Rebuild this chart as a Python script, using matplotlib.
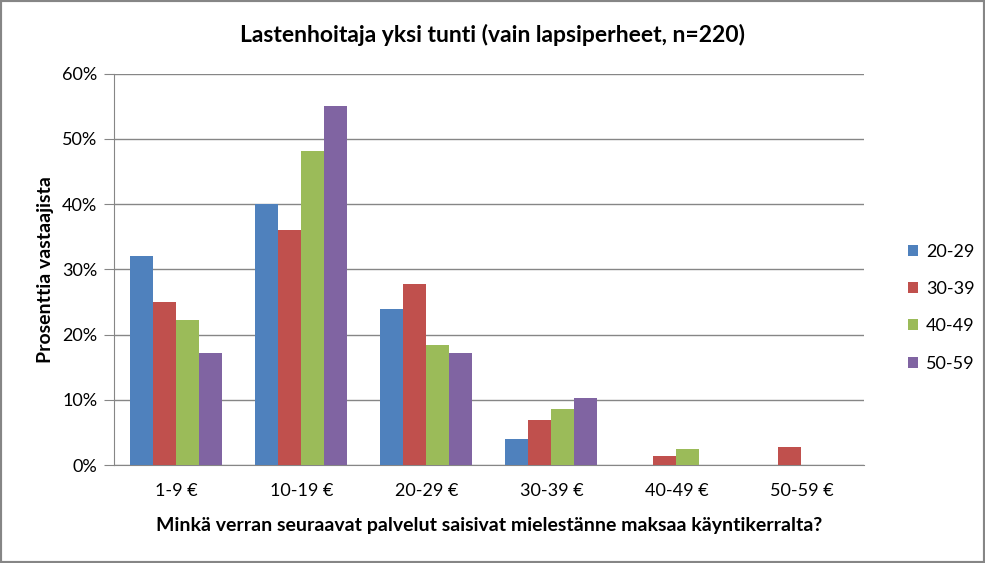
import matplotlib
matplotlib.use("Agg")
import matplotlib.pyplot as plt
from matplotlib.patches import Rectangle
import numpy as np

plt.rcParams['font.family'] = ['Lato', 'DejaVu Sans']

categories = ["1-9 €", "10-19 €", "20-29 €", "30-39 €", "40-49 €", "50-59 €"]
series_names = ["20-29", "30-39", "40-49", "50-59"]
s_20_29 = [32.0, 40.0, 23.9, 4.0, 0.0, 0.0]
s_30_39 = [25.0, 36.0, 27.7, 6.9, 1.4, 2.8]
s_40_49 = [22.2, 48.1, 18.4, 8.6, 2.5, 0.0]
s_50_59 = [17.2, 55.1, 17.2, 10.3, 0.0, 0.0]
colors = ["#4F81BD", "#C0504D", "#9BBB59", "#8064A2"]
y_ticks = [0, 10, 20, 30, 40, 50, 60]

fig = plt.figure(figsize=(9.85, 5.63), dpi=100)
fig.patches.append(Rectangle((0, 0), 1, 1, transform=fig.transFigure,
                             fill=False, edgecolor="#868686", linewidth=3))
ax = fig.add_axes([0.1157, 0.174, 0.7614, 0.6954])

x = np.arange(len(categories))
w = 0.184
for i, (vals, c, name) in enumerate(zip([s_20_29, s_30_39, s_40_49, s_50_59], colors, series_names)):
    ax.bar(x + (i - 1.5) * w, vals, width=w, color=c, label=name, zorder=3)

ax.set_xlim(-0.5, len(categories) - 0.5)
ax.set_ylim(0, 60)
ax.set_yticks(y_ticks)
ax.set_yticklabels([f"{t}%" for t in y_ticks])
ax.set_xticks(x)
ax.set_xticklabels(categories)
ax.yaxis.grid(True, color="#868686", linewidth=1, zorder=0)
for s in ["top", "right"]:
    ax.spines[s].set_visible(False)
ax.spines["left"].set_color("#868686")
ax.spines["bottom"].set_color("#868686")
ax.tick_params(axis="x", length=0, labelsize=13, pad=13)
ax.tick_params(axis="y", length=7, color="#868686", labelsize=13, pad=5)

ax.set_ylabel("Prosenttia vastaajista", fontsize=14, fontweight="bold", labelpad=6)
ax.set_xlabel("Minkä verran seuraavat palvelut saisivat mielestänne maksaa käyntikerralta?",
              fontsize=14, fontweight="bold", labelpad=13)
fig.text(0.5, 0.938, "Lastenhoitaja yksi tunti (vain lapsiperheet, n=220)",
         ha="center", va="center", fontsize=16.5, fontweight="bold")

leg = ax.legend(loc="center left", bbox_to_anchor=(1.037, 0.402), frameon=False,
                fontsize=13, handlelength=0.55, handleheight=0.55,
                labelspacing=1.18, handletextpad=0.45)

fig.savefig("out.png", dpi=100)
